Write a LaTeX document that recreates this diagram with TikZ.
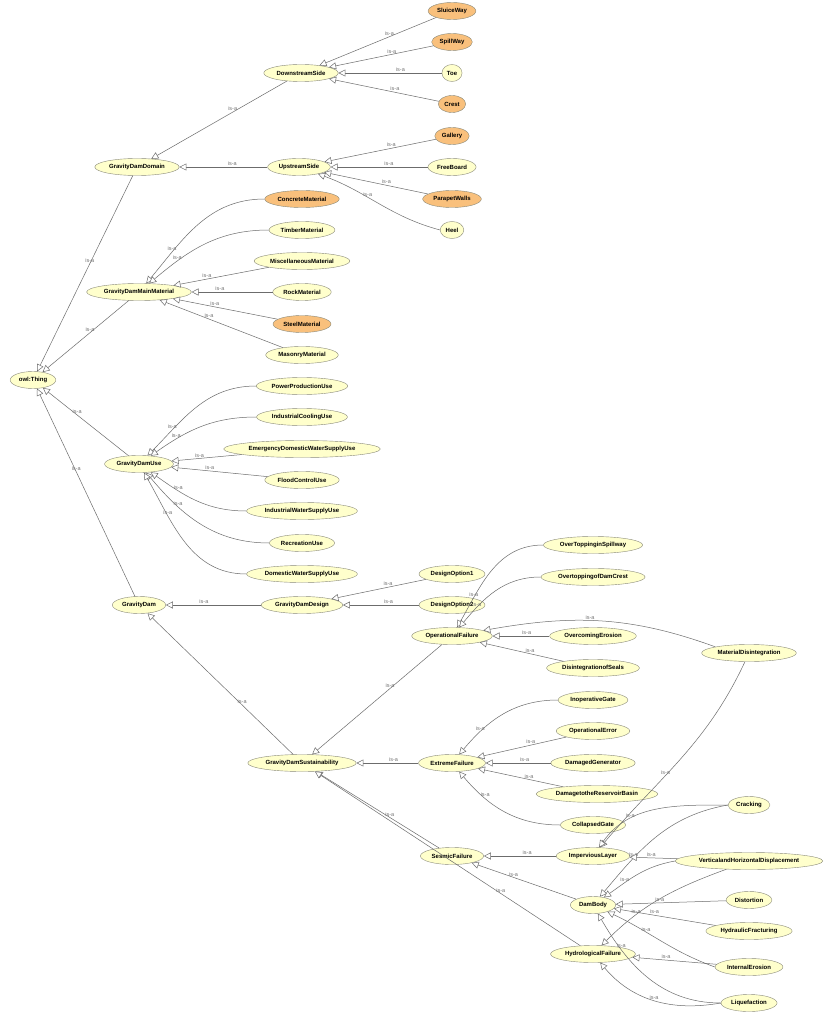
\documentclass[tikz,border=0pt]{standalone}
\usepackage{fontspec}
\setmainfont{Liberation Sans}
\usetikzlibrary{shapes.geometric,arrows.meta}
\definecolor{cy}{HTML}{FFFFCC}
\definecolor{co}{HTML}{F9C07C}
\definecolor{ce}{HTML}{8A8A7A}
\tikzset{
 cls/.style={ellipse,draw=ce,fill=cy,inner xsep=2pt,inner ysep=1.2pt,minimum height=17pt,font=\fontsize{6}{7}\selectfont\bfseries},
 ocls/.style={cls,fill=co},
 isa/.style={draw=gray!85!black,line width=0.5pt,-{Triangle[open,length=7pt,width=7pt,fill=white]}},
 lab/.style={font=\fontsize{5.5}{6}\selectfont,text=gray!90!black,inner sep=1pt,above}
}
\newcommand{\isa}[3][0.4]{\draw[isa] (#2) -- node[lab,pos=#1]{is-a} (#3);}
\newcommand{\isc}[4][0.5]{\draw[isa] (#2) to[#4] node[lab,pos=#1]{is-a} (#3);}
\begin{document}
\begin{tikzpicture}[x=1pt,y=-1pt]
\useasboundingbox[fill=white] (0,0) rectangle (827,1024);
\node[cls] (thing) at (33,380) {owl:Thing};
\node[cls] (dom) at (137,167) {GravityDamDomain};
\node[cls] (down) at (301,73) {DownstreamSide};
\node[cls] (up) at (299,167) {UpstreamSide};
\node[ocls] (sluice) at (452,11) {SluiceWay};
\node[ocls] (spill) at (452,42) {SpillWay};
\node[cls] (toe) at (452,73) {Toe};
\node[ocls] (crest) at (452,104) {Crest};
\node[ocls] (gallery) at (452,136) {Gallery};
\node[cls] (free) at (452,167) {FreeBoard};
\node[ocls] (parapet) at (452,199) {ParapetWalls};
\node[cls] (heel) at (452,230) {Heel};
\node[cls] (mat) at (139,292) {GravityDamMainMaterial};
\node[ocls] (conc) at (302,199) {ConcreteMaterial};
\node[cls] (timber) at (302,230) {TimberMaterial};
\node[cls] (misc) at (302,261) {MiscellaneousMaterial};
\node[cls] (rock) at (302,292) {RockMaterial};
\node[ocls] (steel) at (302,324) {SteelMaterial};
\node[cls] (mason) at (302,355) {MasonryMaterial};
\node[cls] (use) at (139,464) {GravityDamUse};
\node[cls] (power) at (302,386) {PowerProductionUse};
\node[cls] (cool) at (302,417) {IndustrialCoolingUse};
\node[cls] (emerg) at (302,449) {EmergencyDomesticWaterSupplyUse};
\node[cls] (flood) at (302,480) {FloodControlUse};
\node[cls] (indw) at (302,511) {IndustrialWaterSupplyUse};
\node[cls] (recr) at (302,543) {RecreationUse};
\node[cls] (domw) at (302,574) {DomesticWaterSupplyUse};
\node[cls] (gd) at (139,605) {GravityDam};
\node[cls] (design) at (302,605) {GravityDamDesign};
\node[cls] (opt1) at (452,574) {DesignOption1};
\node[cls] (opt2) at (452,605) {DesignOption2};
\node[cls] (sust) at (302,763) {GravityDamSustainability};
\node[cls] (opf) at (452,636) {OperationalFailure};
\node[cls] (ovs) at (593,545) {OverToppinginSpillway};
\node[cls] (ovc) at (593,577) {OvertoppingofDamCrest};
\node[cls] (ove) at (593,636) {OvercomingErosion};
\node[cls] (dis) at (593,668) {DisintegrationofSeals};
\node[cls] (md) at (749,653) {MaterialDisintegration};
\node[cls] (ext) at (452,763) {ExtremeFailure};
\node[cls] (inop) at (593,700) {InoperativeGate};
\node[cls] (operr) at (593,731) {OperationalError};
\node[cls] (dgen) at (593,763) {DamagedGenerator};
\node[cls] (dres) at (597,794) {DamagetotheReservoirBasin};
\node[cls] (coll) at (593,825) {CollapsedGate};
\node[cls] (ses) at (452,856) {SesmicFailure};
\node[cls] (imp) at (593,856) {ImperviousLayer};
\node[cls] (crack) at (749,805) {Cracking};
\node[cls] (vhd) at (749,861) {VerticalandHorizontalDisplacement};
\node[cls] (body) at (593,905) {DamBody};
\node[cls] (dist) at (749,900) {Distortion};
\node[cls] (hfrac) at (749,931) {HydraulicFracturing};
\node[cls] (hyd) at (593,954) {HydrologicalFailure};
\node[cls] (ier) at (749,967) {InternalErosion};
\node[cls] (liq) at (749,1003) {Liquefaction};
% edges
\isa[0.45]{dom}{thing}
\isa[0.45]{mat}{thing}
\isa[0.6]{use}{thing}
\isa[0.6]{gd}{thing}
\isa[0.4]{down}{dom}
\isa[0.4]{up}{dom}
\isa{sluice}{down}\isa{spill}{down}\isa{toe}{down}\isa{crest}{down}
\isa{gallery}{up}\isa{free}{up}\isa{parapet}{up}
\isc[0.6]{heel.west}{up}{out=165,in=-20}
\isc[0.75]{conc.west}{mat}{out=180,in=50}
\isc[0.75]{timber.west}{mat}{out=180,in=40}
\isa[0.65]{misc}{mat}\isa[0.65]{rock}{mat}\isa[0.6]{steel}{mat}
\isa[0.6]{mason}{mat}
\isc[0.75]{power.west}{use}{out=180,in=45}
\isc[0.75]{cool.west}{use}{out=180,in=35}
\isa[0.6]{emerg}{use}\isa[0.6]{flood}{use}
\isc[0.7]{indw.west}{use}{out=180,in=-35}
\isc[0.7]{recr.west}{use}{out=180,in=-50}
\isc[0.7]{domw.west}{use}{out=180,in=-60}
\isa[0.6]{design}{gd}
\isa{opt1}{design}\isa{opt2}{design}
\isa[0.35]{sust}{gd}
\isa[0.4]{opf}{sust}\isa[0.4]{ext}{sust}\isa[0.4]{ses}{sust}
\isa[0.3]{hyd}{sust}
\isc[0.75]{ovs.west}{opf}{out=180,in=60}
\isc[0.75]{ovc.west}{opf}{out=180,in=50}
\isa{ove}{opf}\isa{dis}{opf}
\isc[0.55]{md.north west}{opf}{out=160,in=10}
\isc[0.75]{inop.west}{ext}{out=180,in=50}
\isa{operr}{ext}\isa{dgen}{ext}\isa{dres}{ext}
\isc[0.7]{coll.west}{ext}{out=180,in=-50}
\isa{imp}{ses}\isa[0.6]{body}{ses}
\isc[0.6]{md}{imp}{out=245,in=50}
\isc[0.7]{crack.west}{imp}{out=180,in=55}
\isc[0.7]{crack.west}{body}{out=190,in=50}
\isa[0.55]{vhd}{imp}
\isc[0.7]{vhd.west}{body}{out=190,in=35}
\isc[0.7]{vhd}{hyd}{out=200,in=45}
\isa[0.6]{dist}{body}\isa[0.6]{hfrac}{body}
\isc[0.65]{ier.west}{body}{out=160,in=-25}
\isa[0.6]{ier}{hyd}
\isc[0.75]{liq.west}{body}{out=180,in=-60}
\isc[0.5]{liq.west}{hyd}{out=190,in=-50}
\end{tikzpicture}
\end{document}
